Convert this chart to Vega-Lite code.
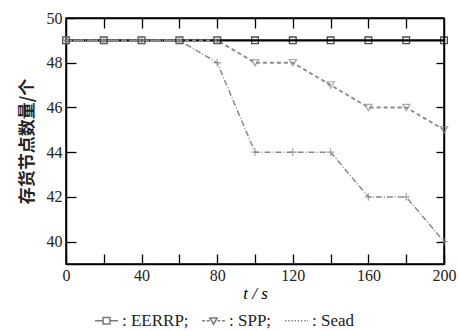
{
  "$schema": "https://vega.github.io/schema/vega-lite/v6.json",
  "width": 378,
  "height": 246,
  "padding": {"left": 18, "top": 10, "right": 5, "bottom": 5},
  "background": "white",
  "config": {
    "view": {"stroke": "black", "strokeWidth": 1.5},
    "axis": {"domainColor": "black", "domainWidth": 1.5, "grid": false, "zindex": 1, "labelFont": "Liberation Serif", "labelFontSize": 16, "labelColor": "#222"},
    "legend": {"labelFont": "Liberation Serif", "labelFontSize": 17, "labelColor": "#222"}
  },
  "data": {"values": [
    {"t": 0, "v": 49, "s": "EERRP"}, {"t": 20, "v": 49, "s": "EERRP"}, {"t": 40, "v": 49, "s": "EERRP"}, {"t": 60, "v": 49, "s": "EERRP"}, {"t": 80, "v": 49, "s": "EERRP"}, {"t": 100, "v": 49, "s": "EERRP"}, {"t": 120, "v": 49, "s": "EERRP"}, {"t": 140, "v": 49, "s": "EERRP"}, {"t": 160, "v": 49, "s": "EERRP"}, {"t": 180, "v": 49, "s": "EERRP"}, {"t": 200, "v": 49, "s": "EERRP"},
    {"t": 0, "v": 49, "s": "SPP"}, {"t": 20, "v": 49, "s": "SPP"}, {"t": 40, "v": 49, "s": "SPP"}, {"t": 60, "v": 49, "s": "SPP"}, {"t": 80, "v": 49, "s": "SPP"}, {"t": 100, "v": 48, "s": "SPP"}, {"t": 120, "v": 48, "s": "SPP"}, {"t": 140, "v": 47, "s": "SPP"}, {"t": 160, "v": 46, "s": "SPP"}, {"t": 180, "v": 46, "s": "SPP"}, {"t": 200, "v": 45, "s": "SPP"},
    {"t": 0, "v": 49, "s": "Sead"}, {"t": 20, "v": 49, "s": "Sead"}, {"t": 40, "v": 49, "s": "Sead"}, {"t": 60, "v": 49, "s": "Sead"}, {"t": 80, "v": 48, "s": "Sead"}, {"t": 100, "v": 44, "s": "Sead"}, {"t": 120, "v": 44, "s": "Sead"}, {"t": 140, "v": 44, "s": "Sead"}, {"t": 160, "v": 42, "s": "Sead"}, {"t": 180, "v": 42, "s": "Sead"}, {"t": 200, "v": 40, "s": "Sead"}
  ]},
  "resolve": {"axis": {"x": "independent", "y": "independent"}, "scale": {"shape": "independent"}},
  "layer": [
    {
      "mark": {"type": "line", "clip": true},
      "encoding": {
        "x": {"field": "t", "type": "quantitative", "scale": {"domain": [0, 200], "nice": false},
          "axis": {"orient": "bottom", "values": [0, 20, 40, 60, 80, 100, 120, 140, 160, 180, 200], "labelExpr": "datum.value % 40 == 0 ? datum.label : ''", "tickSize": -10, "tickColor": "black", "tickWidth": 1.3, "labelPadding": 13, "title": "t / s", "titleFont": "Liberation Serif", "titleFontSize": 17, "titleFontWeight": "normal", "titleFontStyle": "italic", "titlePadding": 2, "labelFlush": false}},
        "y": {"field": "v", "type": "quantitative", "scale": {"domain": [39, 50], "nice": false, "zero": false},
          "axis": {"orient": "left", "values": [40, 42, 44, 46, 48, 50], "tickSize": -10, "tickColor": "black", "tickWidth": 1.3, "labelPadding": 14, "title": "存货节点数量/个", "titleFont": "Noto Sans CJK SC", "titleFontSize": 17, "titleFontWeight": "bold", "titleColor": "#222", "titlePadding": 10}},
        "color": {"field": "s", "type": "nominal", "scale": {"domain": ["EERRP", "SPP", "Sead"], "range": ["black", "#8a8a8a", "#8a8a8a"]}, "legend": null},
        "strokeWidth": {"field": "s", "type": "nominal", "scale": {"domain": ["EERRP", "SPP", "Sead"], "range": [2.2, 1.5, 1.5]}, "legend": null},
        "strokeDash": {"field": "s", "type": "nominal", "scale": {"domain": ["EERRP", "SPP", "Sead"], "range": [[1, 0], [4, 3], [6, 2, 1, 2]]}, "legend": null}
      }
    },
    {
      "mark": {"type": "point", "filled": false, "clip": false, "strokeWidth": 1.3},
      "encoding": {
        "x": {"field": "t", "type": "quantitative", "axis": {"orient": "top", "values": [20, 40, 60, 80, 100, 120, 140, 160, 180], "labels": false, "tickSize": -10, "tickColor": "black", "tickWidth": 1.3, "title": null}},
        "y": {"field": "v", "type": "quantitative", "axis": {"orient": "right", "values": [40, 42, 44, 46, 48], "labels": false, "tickSize": -8, "tickColor": "black", "tickWidth": 1.3, "title": null}},
        "color": {"field": "s", "type": "nominal", "scale": {"domain": ["EERRP", "SPP", "Sead"], "range": ["black", "#8a8a8a", "#8a8a8a"]}, "legend": null},
        "size": {"field": "s", "type": "nominal", "scale": {"domain": ["EERRP", "SPP", "Sead"], "range": [45, 60, 50]}, "legend": null},
        "shape": {"field": "s", "type": "nominal", "scale": {"domain": ["EERRP", "SPP", "Sead"], "range": ["square", "triangle-down", "M-1,0H1M0,-1V1"]}, "legend": null}
      }
    },
    {
      "transform": [{"filter": "datum.t < 0"}],
      "mark": {"type": "point", "filled": false, "color": "#444", "strokeWidth": 1.2},
      "encoding": {
        "x": {"field": "t", "type": "quantitative", "axis": null},
        "y": {"field": "v", "type": "quantitative", "axis": null},
        "shape": {"field": "s", "type": "nominal",
          "scale": {"domain": ["EERRP", "SPP", "Sead"], "range": ["M-1,0H-0.3M0.3,0H1M-0.3,-0.28H0.3V0.28H-0.3Z", "M-1,0H-0.75M-0.6,0H-0.35M0.35,0H0.6M0.75,0H1M-0.32,-0.25H0.32L0,0.3Z", "M-1,0H-0.88M-0.72,0H-0.6M-0.44,0H-0.32M-0.16,0H-0.04M0.12,0H0.24M0.4,0H0.52M0.68,0H0.8M0.92,0H1"]},
          "legend": {"orient": "none", "legendX": 28, "legendY": 290, "direction": "horizontal", "title": null, "symbolSize": 520, "labelOffset": 3, "columnPadding": 10,
            "labelExpr": "datum.label == 'Sead' ? ': Sead' : ': ' + datum.label + ';'"}}
      }
    }
  ]
}
